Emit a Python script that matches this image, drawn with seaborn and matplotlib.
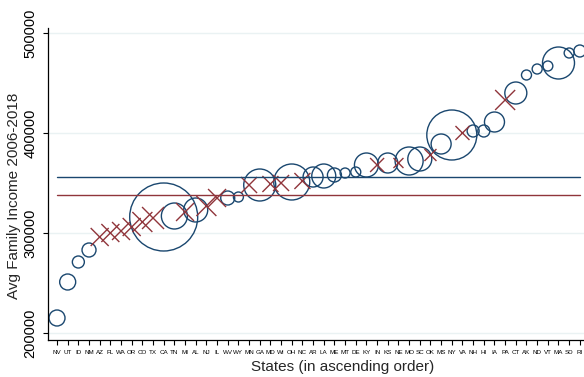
# Avg family income by state, sorted ascending, marker size by weight

import numpy as np
import pandas as pd
import matplotlib as mpl
mpl.use('Agg')
import matplotlib.pyplot as plt
import seaborn as sns

# States in ascending order of income
states = ['NV', 'UT', 'ID', 'NM', 'AZ', 'FL', 'WA', 'OR', 'CO', 'TX',
          'CA', 'TN', 'MI', 'AL', 'NJ', 'IL', 'WV', 'WY', 'MN', 'GA',
          'MD', 'WI', 'OH', 'NC', 'AR', 'LA', 'ME', 'MT', 'DE', 'KY',
          'IN', 'KS', 'NE', 'MO', 'SC', 'OK', 'MS', 'NY', 'VA', 'NH',
          'HI', 'IA', 'PA', 'CT', 'AK', 'ND', 'VT', 'MA', 'SD', 'RI']

income = [215000, 251000, 271000, 283000, 296000, 300000, 302000, 306000, 311000, 315000,
          316000, 317000, 321000, 323000, 327000, 335000, 335000, 336000, 348000, 348000,
          349000, 350000, 351000, 352000, 356000, 357000, 358000, 360000, 361000, 368000,
          368000, 370000, 370000, 372000, 374000, 378000, 389000, 398000, 400000, 402000,
          402000, 411000, 433000, 440000, 458000, 464000, 467000, 470000, 480000, 482000]

# O = circle group, X = cross group
group = ['O', 'O', 'O', 'O', 'X', 'X', 'X', 'X', 'X', 'X',
         'O', 'O', 'X', 'O', 'X', 'X', 'O', 'O', 'X', 'O',
         'X', 'X', 'O', 'X', 'O', 'O', 'O', 'O', 'O', 'O',
         'X', 'O', 'X', 'O', 'O', 'X', 'O', 'O', 'X', 'O',
         'O', 'O', 'X', 'O', 'O', 'O', 'O', 'O', 'O', 'O']

# relative weight (marker area)
weight = [64, 64, 36, 49, 81, 81, 81, 81, 100, 121,
          1156, 169, 81, 144, 100, 81, 49, 25, 64, 256,
          64, 64, 324, 64, 100, 144, 49, 25, 25, 144,
          49, 100, 25, 196, 144, 36, 100, 625, 49, 36,
          36, 100, 100, 121, 25, 25, 25, 256, 25, 36]

# reference lines
mean_O = 355700
mean_X = 338000

yticks = [200000, 300000, 400000, 500000]

df = pd.DataFrame({'state': states, 'income': income, 'group': group, 'weight': weight})
df['pos'] = np.arange(1, len(df) + 1)

sns.set_theme(style = 'ticks')
plt.rcParams['font.family'] = ['Liberation Sans', 'DejaVu Sans']

navy = '#1a476f'
maroon = '#90353b'

fig = plt.figure(figsize = (5.84, 3.77), dpi = 100)
ax = fig.add_axes([48/584, 1 - 340/377, 1 - 48/584, 312/377])

# lines across all states
sns.lineplot(ax = ax, x = df['pos'], y = np.full(len(df), mean_O), color = navy, linewidth = 1.0)
sns.lineplot(ax = ax, x = df['pos'], y = np.full(len(df), mean_X), color = maroon, linewidth = 1.0)

# marker area per weight unit (px radius -> points)
k = (2 * 0.72) ** 2
wmin, wmax = min(weight), max(weight)

sns.scatterplot(ax = ax,
                data = df[df['group'] == 'O'],
                x = 'pos', y = 'income',
                size = 'weight', sizes = (k * wmin, k * wmax), size_norm = (wmin, wmax),
                marker = 'o', facecolor = 'none', edgecolor = navy, linewidth = 1.0,
                legend = False)

sns.scatterplot(ax = ax,
                data = df[df['group'] == 'X'],
                x = 'pos', y = 'income',
                size = 'weight', sizes = (k * wmin, k * wmax), size_norm = (wmin, wmax),
                marker = 'x', color = maroon, linewidth = 1.0,
                legend = False)

ax.set_xlim(0.156, 50.39)
ax.set_ylim(193000, 505000)

ax.set_xticks(df['pos'])
ax.set_xticklabels(df['state'], fontsize = 4.5)
ax.set_yticks(yticks)
ax.set_yticklabels([str(v) for v in yticks], fontsize = 10.5, rotation = 90, va = 'center')

ax.tick_params(axis = 'x', length = 3.6, width = 0.8, pad = 3.5, colors = 'black')
ax.tick_params(axis = 'y', length = 3.6, width = 0.8, pad = 4, colors = 'black')

ax.grid(False)
ax.yaxis.grid(True, color = '#eaf2f3', linewidth = 1.0)
ax.set_axisbelow(True)

sns.despine(ax = ax)
for side in ['left', 'bottom']:
    ax.spines[side].set_color('black')
    ax.spines[side].set_linewidth(0.9)

ax.set_xlabel('States (in ascending order)', fontsize = 11)
ax.set_ylabel('Avg Family Income 2006-2018', fontsize = 11)
ax.xaxis.set_label_coords((343 - 48) / 536, -(367 - 340) / 312)
ax.yaxis.set_label_coords(-(48 - 14) / 536, (340 - 196) / 312)
ax.xaxis.label.set_va('center')
ax.yaxis.label.set_va('center')

fig.savefig('out.png', dpi = 100)
